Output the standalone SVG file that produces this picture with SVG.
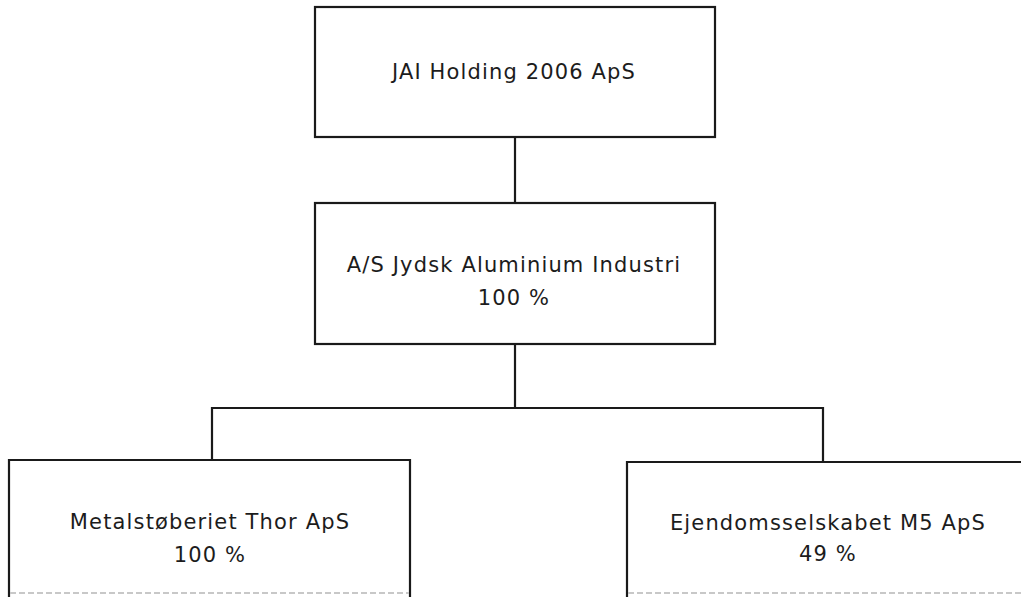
<svg xmlns="http://www.w3.org/2000/svg" width="1021" height="597" viewBox="0 0 1021 597">
<style>
.box{fill:#fff;stroke:#1a1a1a;stroke-width:2.2}
.edge{fill:none;stroke:#1a1a1a;stroke-width:2.2}
.faint{stroke:#c8c8c8;stroke-width:2;stroke-dasharray:6 3}
text{font-family:"DejaVu Sans",Verdana,sans-serif;font-size:21px;fill:#1c1c1c;text-anchor:middle;letter-spacing:1.15px}
</style>
<rect width="1021" height="597" fill="#fff"/>
<g id="connectors">
<line class="edge" x1="515" y1="137" x2="515" y2="203"/>
<line class="edge" x1="515" y1="344" x2="515" y2="408"/>
<polyline class="edge" points="212,460 212,408 823,408 823,462"/>
</g>
<g id="n-jai">
<rect class="box" x="315" y="7" width="400" height="130"/>
<text x="514" y="79">JAI Holding 2006 ApS</text>
</g>
<g id="n-jydsk">
<rect class="box" x="315" y="203" width="400" height="141"/>
<text x="514" y="272">A/S Jydsk Aluminium Industri</text>
<text x="514" y="305">100 %</text>
</g>
<g id="n-thor">
<path class="edge" d="M9,600 V460 H410 V600"/>
<line class="faint" x1="10" y1="593" x2="409" y2="593"/>
<text x="210" y="529">Metalstøberiet Thor ApS</text>
<text x="210" y="562">100 %</text>
</g>
<g id="n-m5">
<path class="edge" d="M627,600 V462 H1030"/>
<line class="faint" x1="628" y1="593" x2="1021" y2="593"/>
<text x="828" y="530">Ejendomsselskabet M5 ApS</text>
<text x="828" y="561">49 %</text>
</g>
</svg>
